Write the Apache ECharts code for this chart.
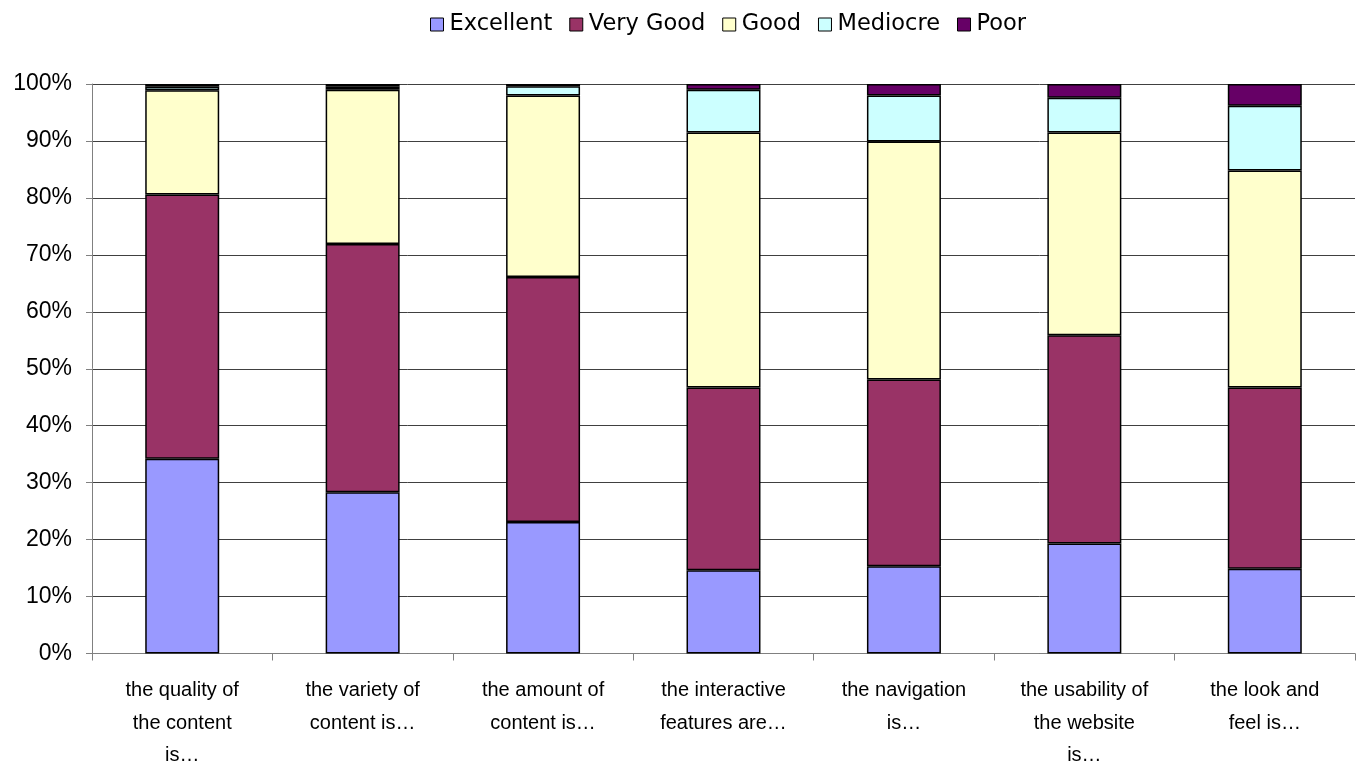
<!DOCTYPE html>
<html>
<head>
<meta charset="utf-8">
<script src="https://cdn.jsdelivr.net/npm/echarts@6/dist/echarts.min.js"></script>
<style>
  html, body { margin: 0; padding: 0; background: #fff; overflow: hidden; }
  #chart { width: 100vw; height: 100vh; }
</style>
</head>
<body>
<div id="chart"></div>
<script>
// Survey answers per aspect of the website, share of respondents (%)
const categories = [
  'the quality of\nthe content\nis\u2026',
  'the variety of\ncontent is\u2026',
  'the amount of\ncontent is\u2026',
  'the interactive\nfeatures are\u2026',
  'the navigation\nis\u2026',
  'the usability of\nthe website\nis\u2026',
  'the look and\nfeel is\u2026'
];
const excellent = [34.2, 28.3, 23.1, 14.6, 15.3, 19.3, 14.9];
const veryGood  = [46.4, 43.6, 43.0, 32.1, 32.8, 36.6, 31.8];
const good      = [18.3, 27.1, 31.9, 44.8, 41.8, 35.6, 38.1];
const mediocre  = [0.6, 0.5, 1.6, 7.5, 8.1, 6.1, 11.4];
const poor      = [0.5, 0.5, 0.4, 1.0, 2.0, 2.4, 3.8];
const yTicks = [0, 10, 20, 30, 40, 50, 60, 70, 80, 90, 100];

const seriesDefs = [
  { name: 'Excellent', data: excellent, color: '#9999FF' },
  { name: 'Very Good', data: veryGood, color: '#993366' },
  { name: 'Good', data: good, color: '#FFFFCC' },
  { name: 'Mediocre', data: mediocre, color: '#CCFFFF' },
  { name: 'Poor', data: poor, color: '#660066' }
];

const font = '"Liberation Sans", Arial, sans-serif';
const legendFont = '"DejaVu Sans", "Liberation Sans", sans-serif';
const chart = echarts.init(document.getElementById('chart'), null, { renderer: 'canvas' });

chart.setOption({
  animation: false,
  backgroundColor: '#ffffff',
  textStyle: { fontFamily: font },
  legend: {
    top: 8,
    left: 425,
    itemWidth: 13,
    itemHeight: 13,
    itemGap: 17,
    textStyle: { fontSize: 22.5, color: '#000', fontFamily: legendFont, padding: [0, 0, 0, 1] },
    itemStyle: { borderColor: '#000', borderWidth: 1 },
    data: seriesDefs.map(s => ({ name: s.name, icon: 'rect' }))
  },
  grid: { left: 92, right: 6, top: 84, height: 576, containLabel: false },
  xAxis: {
    type: 'category',
    data: categories,
    axisLine: { lineStyle: { color: '#808080', width: 1 } },
    axisTick: { show: true, length: 7, lineStyle: { color: '#808080' } },
    axisLabel: {
      interval: 0,
      margin: 21,
      fontSize: 20,
      lineHeight: 32.5,
      color: '#000',
      fontFamily: font,
      verticalAlign: 'top'
    }
  },
  yAxis: {
    type: 'value',
    min: yTicks[0],
    max: yTicks[yTicks.length - 1],
    interval: 10,
    axisLine: { show: true, lineStyle: { color: '#808080', width: 1 } },
    axisTick: { show: true, length: 6, lineStyle: { color: '#808080' } },
    splitLine: { show: true, lineStyle: { color: '#404040', width: 1 } },
    axisLabel: {
      formatter: '{value}%',
      fontSize: 23,
      color: '#000',
      margin: 20,
      fontFamily: font
    }
  },
  series: seriesDefs.map(s => ({
    name: s.name,
    type: 'bar',
    stack: 'total',
    barWidth: '41%',
    data: s.data,
    itemStyle: { color: s.color, borderColor: '#000', borderWidth: 1.5 }
  }))
});
</script>
</body>
</html>
